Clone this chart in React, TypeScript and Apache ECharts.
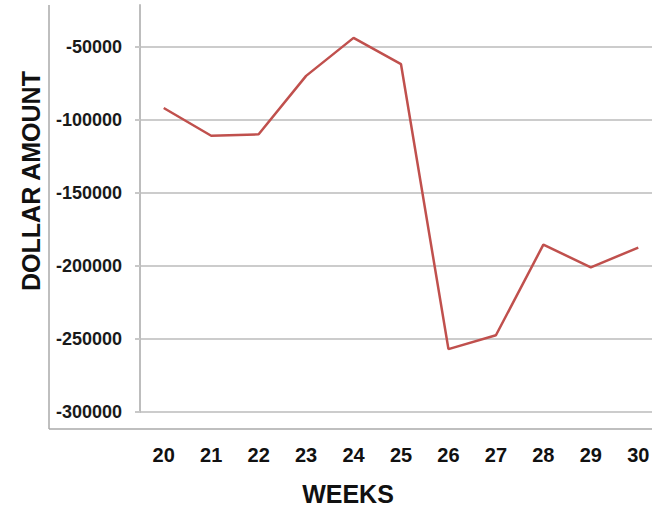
import React, { useEffect, useRef } from "react";
import * as echarts from "echarts";

const weeks = ["20", "21", "22", "23", "24", "25", "26", "27", "28", "29", "30"];
const amounts = [-92000, -111000, -110000, -70000, -44000, -62000, -257000, -247500, -185500, -201000, -187500];
const yMin = -300000;
const yMax = -21500;
const yInterval = 50000;
const xTitle = "WEEKS";
const yTitle = "DOLLAR AMOUNT";

const FONT = "'Liberation Sans', Arial, Helvetica, sans-serif";

export default function App() {
  const ref = useRef<HTMLDivElement>(null);
  useEffect(() => {
    if (!ref.current) return;
    const chart = echarts.init(ref.current, undefined, { renderer: "svg" });
    chart.setOption({
      animation: false,
      backgroundColor: "#ffffff",
      grid: { left: 140, top: 5, right: 0, bottom: 96, containLabel: false },
      xAxis: {
        type: "category",
        data: weeks,
        boundaryGap: true,
        axisLine: { show: false },
        axisTick: { show: false },
        axisLabel: { margin: 33, fontSize: 20, fontWeight: "bold", color: "#111", fontFamily: FONT },
        splitLine: { show: false },
      },
      yAxis: {
        type: "value",
        min: yMin,
        max: yMax,
        interval: yInterval,
        axisLine: { show: true, lineStyle: { color: "#bdbdbd", width: 2 } },
        axisTick: { show: true, length: 5, lineStyle: { color: "#c8c8c8", width: 2 } },
        axisLabel: {
          margin: 18,
          fontSize: 18,
          fontWeight: "bold",
          color: "#1a1a1a",
          fontFamily: FONT,
          showMaxLabel: false,
          formatter: (v: number) => String(v),
        },
        splitLine: { show: true, showMaxLine: false, lineStyle: { color: "#cccccc", width: 2 } },
      },
      series: [
        {
          type: "line",
          data: amounts,
          symbol: "none",
          clip: false,
          lineStyle: { color: "#c0504d", width: 2.5 },
        },
      ],
      graphic: [
        { type: "line", shape: { x1: 49, y1: 5, x2: 49, y2: 429 }, style: { stroke: "#aaaaaa", lineWidth: 1.5 } },
        { type: "line", shape: { x1: 49, y1: 429, x2: 662, y2: 429 }, style: { stroke: "#aaaaaa", lineWidth: 1.5 } },
        {
          type: "text",
          x: 348,
          y: 494,
          style: { text: xTitle, align: "center", verticalAlign: "middle", font: `bold 25px ${FONT}`, fill: "#111" },
        },
        {
          type: "text",
          x: 31,
          y: 181,
          rotation: Math.PI / 2,
          style: { text: yTitle, align: "center", verticalAlign: "middle", font: `bold 25px ${FONT}`, fill: "#111" },
        },
      ],
    });
    return () => chart.dispose();
  }, []);
  return (
    <div style={{ position: "fixed", left: 0, top: 0, width: 652, height: 508, overflow: "hidden", background: "#fff" }}>
      <div ref={ref} style={{ width: 662, height: 508 }} />
    </div>
  );
}
